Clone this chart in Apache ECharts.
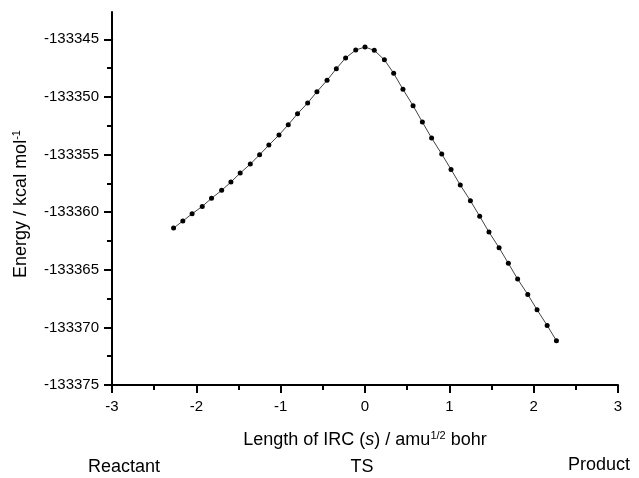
<!DOCTYPE html>
<html>
<head>
<meta charset="utf-8">
<script src="https://cdn.jsdelivr.net/npm/echarts@6/dist/echarts.min.js"></script>
<style>html,body{margin:0;padding:0;background:#fff}#c{width:639px;height:478px}</style>
</head>
<body>
<div id="c"></div>
<script>
// IRC coordinate s (amu^1/2 bohr)
var ircS = [-2.27,-2.16,-2.05,-1.93,-1.82,-1.70,-1.59,-1.48,-1.36,-1.25,-1.14,-1.02,-0.91,-0.80,-0.68,-0.57,-0.45,-0.34,-0.23,-0.11,0.00,
            0.11,0.23,0.34,0.45,0.57,0.68,0.79,0.91,1.02,1.13,1.25,1.36,1.47,1.59,1.70,1.81,1.93,2.04,2.16,2.27];
// Energy (kcal/mol)
var energy = [-133361.38,-133360.77,-133360.14,-133359.50,-133358.80,-133358.11,-133357.39,-133356.61,-133355.83,-133355.02,
              -133354.18,-133353.31,-133352.41,-133351.46,-133350.53,-133349.55,-133348.56,-133347.55,-133346.62,-133345.93,
              -133345.67,-133345.96,-133346.78,-133347.95,-133349.34,-133350.76,-133352.18,-133353.57,-133354.96,-133356.29,
              -133357.65,-133359.01,-133360.36,-133361.73,-133363.09,-133364.44,-133365.81,-133367.14,-133368.47,-133369.83,-133371.16];
var xRange = [-3, 3];
var yRange = [-133375, -133345];
var bottomLabels = ['Reactant', 'TS', 'Product'];

var FF = '"Liberation Sans", Arial, Helvetica, sans-serif';
var points = ircS.map(function (s, i) { return [s, energy[i]]; });

var chart = echarts.init(document.getElementById('c'), null, {renderer: 'canvas'});
var axisLineStyle = {color: '#000', width: 2};
chart.setOption({
  animation: false,
  backgroundColor: '#fff',
  grid: [
    {left: 112, right: 21, top: 39.3, bottom: 93},
    {left: 112, right: 21, top: 12, bottom: 93}
  ],
  xAxis: [{
    gridIndex: 0, type: 'value', min: xRange[0], max: xRange[1], interval: 1,
    axisLine: {show: true, onZero: false, lineStyle: axisLineStyle},
    axisTick: {show: true, length: 8, lineStyle: {color: '#000', width: 2}},
    minorTick: {show: true, splitNumber: 2, length: 5, lineStyle: {color: '#000', width: 2}},
    splitLine: {show: false},
    axisLabel: {color: '#000', fontFamily: FF, fontSize: 15, margin: 14,
      formatter: function (v) { return String(v); }},
    name: 'Length of IRC ({i|s}) / amu{sup|1/2} bohr',
    nameLocation: 'middle', nameGap: 45,
    nameTextStyle: {
      color: '#000', fontFamily: FF, fontSize: 18, lineHeight: 20,
      rich: {
        i: {fontStyle: 'italic', fontFamily: FF, fontSize: 18, color: '#000', lineHeight: 20},
        sup: {fontFamily: FF, fontSize: 11, color: '#000', lineHeight: 12, verticalAlign: 'top'}
      }
    }
  }, {
    gridIndex: 1, type: 'value', min: xRange[0], max: xRange[1], show: false
  }],
  yAxis: [{
    gridIndex: 0, type: 'value', min: yRange[0], max: yRange[1], interval: 5,
    axisLine: {show: true, onZero: false, lineStyle: axisLineStyle},
    axisTick: {show: true, length: 8, lineStyle: {color: '#000', width: 2}},
    minorTick: {show: true, splitNumber: 2, length: 5, lineStyle: {color: '#000', width: 2}},
    splitLine: {show: false},
    axisLabel: {color: '#000', fontFamily: FF, fontSize: 15, margin: 13,
      formatter: function (v) { return String(v); }}
  }, {
    gridIndex: 1, type: 'value', min: 0, max: 1,
    axisLine: {show: true, onZero: false, lineStyle: axisLineStyle},
    axisTick: {show: false}, axisLabel: {show: false}, splitLine: {show: false}
  }],
  series: [{
    type: 'line', xAxisIndex: 0, yAxisIndex: 0, data: points,
    symbol: 'circle', symbolSize: 5, showSymbol: true,
    itemStyle: {color: '#000'},
    lineStyle: {color: '#444', width: 1}
  }],
  graphic: [
    {type: 'text', x: 21.5, y: 204, rotation: Math.PI / 2,
      style: {text: 'Energy / kcal mol{sup|-1}', align: 'center', verticalAlign: 'middle',
        fill: '#000', font: '18px ' + FF, lineHeight: 20,
        rich: {sup: {fontFamily: FF, fontSize: 11, fill: '#000', lineHeight: 12, verticalAlign: 'top'}}}},
    {type: 'text', x: 88, y: 467.5,
      style: {text: bottomLabels[0], align: 'left', verticalAlign: 'middle', fill: '#000', font: '18px ' + FF}},
    {type: 'text', x: 362, y: 467.5,
      style: {text: bottomLabels[1], align: 'center', verticalAlign: 'middle', fill: '#000', font: '18px ' + FF}},
    {type: 'text', x: 568, y: 465.5,
      style: {text: bottomLabels[2], align: 'left', verticalAlign: 'middle', fill: '#000', font: '18px ' + FF}}
  ]
});
</script>
</body>
</html>
